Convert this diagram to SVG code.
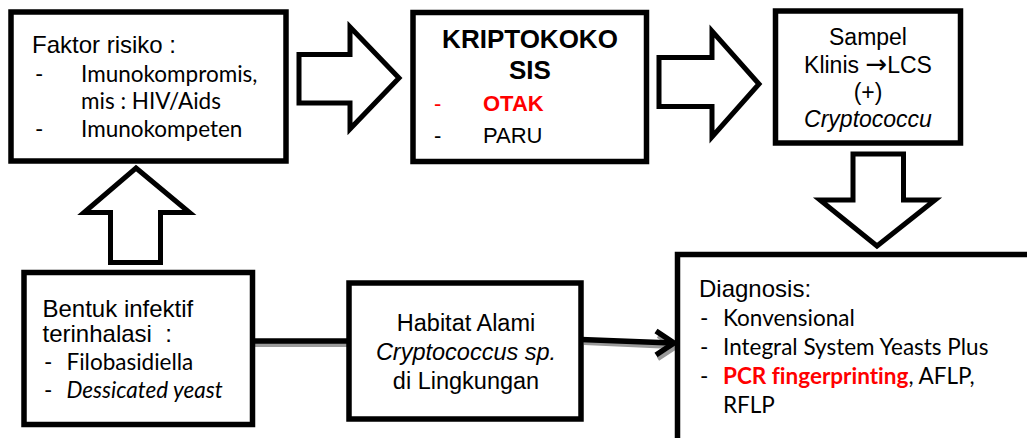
<svg xmlns="http://www.w3.org/2000/svg" width="1027" height="438" viewBox="0 0 1027 438">
<style>
.box{fill:#fff;stroke:#000;stroke-width:5.5}
.blk{fill:#fff;stroke:#000;stroke-width:5;stroke-linejoin:miter}
.ar{font-family:"Liberation Sans",Arial,sans-serif;font-size:24px;fill:#000}
.cal{font-family:Lato,"Liberation Sans",sans-serif;font-size:22.5px;fill:#000;white-space:pre;font-variant-ligatures:none}
.b{font-weight:bold}
.i{font-style:italic}
.red{fill:#ff0000}
.mid{text-anchor:middle}
.ln{fill:none;stroke:#000;stroke-width:5.5}
.sh{fill:none;stroke:#9a9a9a;stroke-width:4}
.dj{font-family:"DejaVu Sans",sans-serif;font-size:26px}
</style>
<rect width="1027" height="438" fill="#fff"/>
<g id="connectors">
  <polygon class="blk" points="299,54.5 350,54.5 350,27 399,78 350,129 350,103 299,103"/>
  <polygon class="blk" points="659,57.5 712,57.5 712,31 759,84 712,137 712,106.5 659,106.5"/>
  <polygon class="blk" points="853,154 903.5,154 903.5,200 935,200 877,246 820,200 853,200"/>
  <polygon class="blk" points="136,168 189.5,212.5 160.5,212.5 160.5,262.5 110.5,262.5 110.5,212.5 84,212.5"/>
  <line class="sh" x1="255" y1="345" x2="348" y2="345"/>
  <line class="ln" x1="252" y1="341" x2="349" y2="341"/>
  <line class="sh" x1="584" y1="343" x2="672" y2="347"/>
  <polyline class="sh" points="658,336 675,348 658,359"/>
  <line class="ln" x1="581" y1="339.5" x2="672" y2="343"/>
  <polyline class="ln" points="656,331 674,343 656,355"/>
</g>
<g id="faktor">
  <rect class="box" x="11" y="12" width="275" height="149"/>
  <text class="ar" x="32" y="53">Faktor risiko :</text>
  <text class="cal" x="35" y="82">-</text>
  <text class="cal" x="81" y="82">Imunokompromis,</text>
  <text class="cal" x="81" y="109">mis : HIV/Aids</text>
  <text class="cal" x="35" y="137">-</text>
  <text class="cal" x="81" y="137">Imunokompeten</text>
</g>
<g id="kriptokokosis">
  <rect class="box" x="413" y="12.5" width="233.5" height="149"/>
  <text class="ar b mid" x="530" y="48" style="font-size:26px">KRIPTOKOKO</text>
  <text class="ar b mid" x="530" y="79" style="font-size:26px">SIS</text>
  <text class="ar red" x="434" y="111" style="font-size:22px">-</text>
  <text class="ar b red" x="483" y="111" style="font-size:22px">OTAK</text>
  <text class="ar" x="434" y="143" style="font-size:22px">-</text>
  <text class="ar" x="483" y="143" style="font-size:22px">PARU</text>
</g>
<g id="sampel">
  <rect class="box" x="775.5" y="11" width="185" height="132"/>
  <text class="ar mid" x="868" y="45" style="font-size:23px">Sampel</text>
  <text class="ar mid" x="868" y="73" style="font-size:23px">Klinis <tspan class="dj">→</tspan>LCS</text>
  <text class="ar mid" x="868" y="100" style="font-size:23px">(+)</text>
  <text class="ar i mid" x="868" y="127" style="font-size:23px">Cryptococcu</text>
</g>
<g id="bentuk">
  <rect class="box" x="24" y="272.5" width="228.5" height="152"/>
  <text class="ar" x="42.5" y="317">Bentuk infektif</text>
  <text class="ar" x="42.5" y="342" style="white-space:pre">terinhalasi  :</text>
  <text class="cal" x="44" y="370">-</text>
  <text class="cal" x="66.5" y="370">Filobasidiella</text>
  <text class="cal" x="44" y="398">-</text>
  <text class="cal i" x="66.5" y="398">Dessicated yeast</text>
</g>
<g id="habitat">
  <rect class="box" x="349" y="283" width="232" height="136"/>
  <text class="ar mid" x="466" y="331" style="font-size:23.5px">Habitat Alami</text>
  <text class="ar i mid" x="466" y="360" style="font-size:23.5px">Cryptococcus sp.</text>
  <text class="ar mid" x="466" y="389" style="font-size:23.5px">di Lingkungan</text>
</g>
<g id="diagnosis">
  <rect class="box" x="677.5" y="254.5" width="400" height="250"/>
  <text class="ar" x="699" y="297">Diagnosis:</text>
  <text class="cal" x="700" y="326">-</text>
  <text class="cal" x="723" y="326">Konvensional</text>
  <text class="cal" x="700" y="355">-</text>
  <text class="cal" x="723" y="355">Integral System Yeasts Plus</text>
  <text class="cal" x="700" y="384">-</text>
  <text class="cal" x="723" y="384"><tspan class="b red">PCR fingerprinting</tspan>, AFLP,</text>
  <text class="cal" x="723" y="413">RFLP</text>
</g>
</svg>
